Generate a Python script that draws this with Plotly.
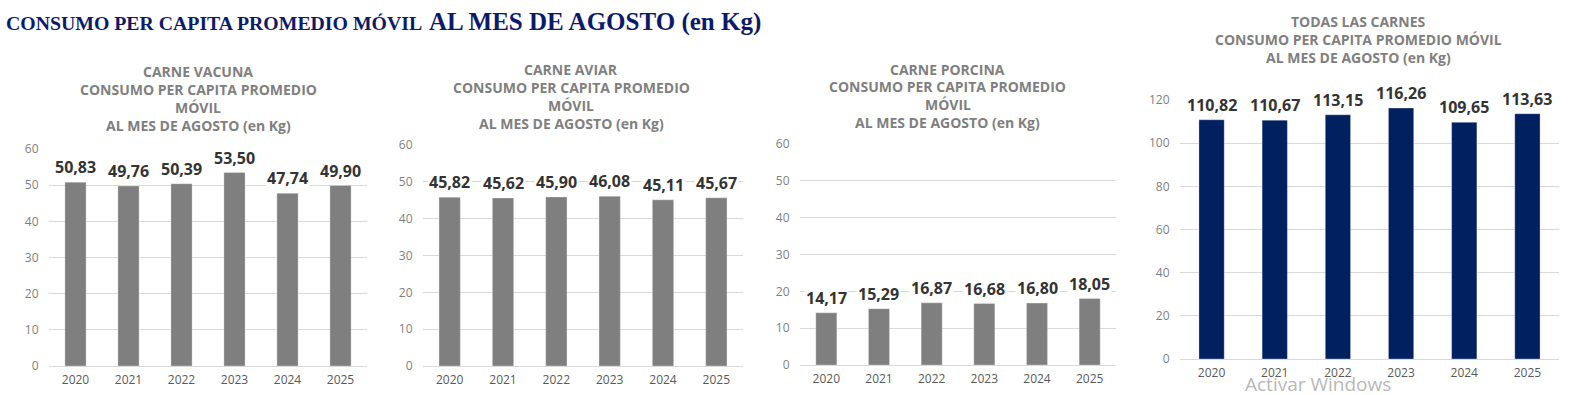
import plotly.graph_objects as go

years = ["2020", "2021", "2022", "2023", "2024", "2025"]
vacuna = [50.83, 49.76, 50.39, 53.50, 47.74, 49.90]
aviar = [45.82, 45.62, 45.90, 46.08, 45.11, 45.67]
porcina = [14.17, 15.29, 16.87, 16.68, 16.80, 18.05]
todas = [110.82, 110.67, 113.15, 116.26, 109.65, 113.63]

W, H = 1577, 395
main_title_a = "CONSUMO PER CAPITA PROMEDIO MÓVIL"
main_title_b = "AL MES DE AGOSTO (en Kg)"
titles = [
    ["CARNE VACUNA", "CONSUMO PER CAPITA PROMEDIO", "MÓVIL", "AL MES DE AGOSTO (en Kg)"],
    ["CARNE AVIAR", "CONSUMO PER CAPITA PROMEDIO", "MÓVIL", "AL MES DE AGOSTO (en Kg)"],
    ["CARNE PORCINA", "CONSUMO PER CAPITA PROMEDIO", "MÓVIL", "AL MES DE AGOSTO (en Kg)"],
    ["TODAS LAS CARNES", "CONSUMO PER CAPITA PROMEDIO MÓVIL", "AL MES DE AGOSTO (en Kg)"],
]
series = [vacuna, aviar, porcina, todas]
colors = ["#7f7f7f", "#7f7f7f", "#7f7f7f", "#002060"]
ranges = [60, 60, 60, 120]
dticks = [10, 10, 10, 20]

# pixel layout: (x0, x1, y_zero_px, y_top_px)
boxes = [(49, 367, 366, 149), (423, 743, 366, 145), (800, 1116, 365, 144), (1180, 1559, 359, 100)]
title_pos = [(198, 72), (571, 70), (948, 69), (1358, 22)]
LSTEP = 17.8

pos = list(range(len(years)))

fig = go.Figure()
FONT = "Open Sans"
for i, (vals, col) in enumerate(zip(series, colors)):
    n = "" if i == 0 else str(i + 1)
    x0, x1, yz, yt = boxes[i]
    fig.add_trace(go.Bar(x=pos, y=vals, marker=dict(color=col, line=dict(color="rgba(255,255,255,0.3)", width=1)),
                         xaxis="x" + n, yaxis="y" + n, showlegend=False, hoverinfo="skip"))
    fig.layout["xaxis" + n] = dict(domain=[x0 / W, x1 / W], anchor="y" + n, range=[-0.5, len(years) - 0.5],
                                   tickvals=pos, ticktext=years,
                                   automargin=False, showgrid=False, zeroline=False,
                                   showline=True, linecolor="#d9d9d9", linewidth=1,
                                   ticks="outside", ticklen=3, tickcolor="rgba(0,0,0,0)",
                                   tickfont=dict(family=FONT, size=12, color="#595959"))
    fig.layout["yaxis" + n] = dict(domain=[(H - yz) / H, (H - yt) / H], anchor="x" + n,
                                   range=[0, ranges[i]], dtick=dticks[i], automargin=False,
                                   showgrid=True, gridcolor="#d9d9d9", gridwidth=1, zeroline=False,
                                   ticks="outside", ticklen=7, tickcolor="rgba(0,0,0,0)",
                                   tickfont=dict(family=FONT, size=12, color="#7f7f7f"))
    for p, v in zip(pos, vals):
        fig.add_annotation(x=p, y=v, xref="x" + n, yref="y" + n, yanchor="bottom", yshift=2,
                           text="<b>" + f"{v:.2f}".replace(".", ",") + "</b>", showarrow=False,
                           font=dict(family=FONT, size=16, color="#333333"),
                           bgcolor="white", borderpad=1)
    tx, ty = title_pos[i]
    for k, line in enumerate(titles[i]):
        fig.add_annotation(x=tx / W, y=(H - (ty + k * LSTEP)) / H, xref="paper", yref="paper",
                           xanchor="center", yanchor="middle", text="<b>" + line + "</b>", showarrow=False,
                           font=dict(family=FONT, size=14, color="#7f7f7f"))

fig.add_annotation(x=4 / W, y=(H - 23) / H, xref="paper", yref="paper", xanchor="left", yanchor="middle",
                   text="<b>" + main_title_a + "</b>", showarrow=False,
                   font=dict(family="Liberation Serif", size=19.8, color="#0c1a6b"))
fig.add_annotation(x=427 / W, y=(H - 22) / H, xref="paper", yref="paper", xanchor="left", yanchor="middle",
                   text="<b>" + main_title_b + "</b>", showarrow=False,
                   font=dict(family="Liberation Serif", size=25, color="#0c1a6b"))
fig.add_annotation(x=1243 / W, y=(H - 384) / H, xref="paper", yref="paper", xanchor="left", yanchor="middle",
                   text="Activar Windows", showarrow=False,
                   font=dict(family="Open Sans", size=19, color="#b8b8b8"))

fig.update_layout(width=W, height=H, margin=dict(l=0, r=0, t=0, b=0), paper_bgcolor="white",
                  plot_bgcolor="white", bargap=0.6)
fig.write_html("out.html", config={"displayModeBar": False}, post_script="document.body.style.margin='0';")
